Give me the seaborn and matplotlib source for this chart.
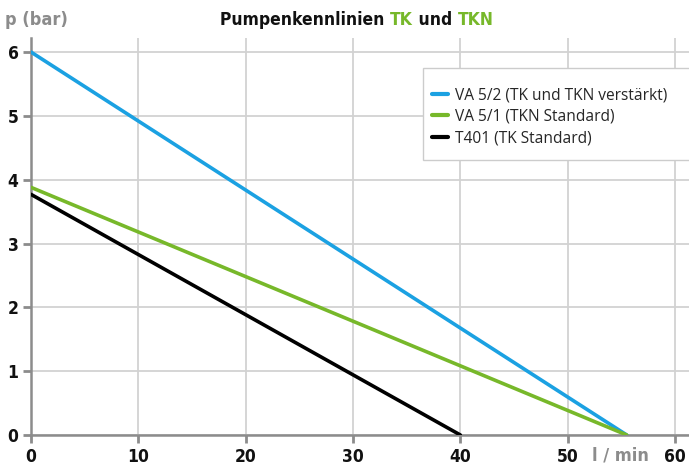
import matplotlib
matplotlib.use("Agg")
import matplotlib.pyplot as plt
import seaborn as sns
import pandas as pd
from matplotlib.font_manager import FontProperties
from matplotlib.patches import Rectangle

flow_va52 = [0, 55.5]
pres_va52 = [6.0, 0.0]
flow_va51 = [0, 55.5]
pres_va51 = [3.88, 0.0]
flow_t401 = [0, 40.0]
pres_t401 = [3.77, 0.0]
labels = ["VA 5/2 (TK und TKN verstärkt)", "VA 5/1 (TKN Standard)", "T401 (TK Standard)"]
colors = ["#1ba1e2", "#77b82a", "#000000"]
xticks = [0, 10, 20, 30, 40, 50, 60]
yticks = [0, 1, 2, 3, 4, 5, 6]

sns.set_theme(style="white")
plt.rcParams['font.family'] = ['DejaVu Sans']

df = pd.concat([
    pd.DataFrame({"flow": flow_va52, "p": pres_va52, "s": labels[0]}),
    pd.DataFrame({"flow": flow_va51, "p": pres_va51, "s": labels[1]}),
    pd.DataFrame({"flow": flow_t401, "p": pres_t401, "s": labels[2]}),
])

W, H = 689, 467
fig = plt.figure(figsize=(6.89, 4.67), dpi=100)
ax = fig.add_axes([31/W, 1-435/H, (W-31)/W, (435-38)/H])
sns.lineplot(data=df, x="flow", y="p", hue="s", palette=colors, hue_order=labels,
             linewidth=2.6, ax=ax, legend=True, zorder=3)
ax.set_xlim(0, 61.3)
ax.set_ylim(0, 6.22)
ax.set_xticks(xticks)
ax.set_yticks(yticks)
ax.set_xlabel("")
ax.set_ylabel("")
ax.grid(True, color="#d2d2d2", linewidth=1.3, zorder=0)
for s in ["top", "right"]:
    ax.spines[s].set_visible(False)
for s in ["left", "bottom"]:
    ax.spines[s].set_color("#8c8c8c")
    ax.spines[s].set_linewidth(1.8)
    ax.spines[s].set_zorder(2)
ax.tick_params(axis="both", which="both", direction="out", length=6, width=2,
               color="#8c8c8c", labelsize=12.5, pad=3, left=True, bottom=True)
for lab in ax.get_xticklabels() + ax.get_yticklabels():
    lab.set_fontweight("bold")
    lab.set_color("#111111")
    lab.set_fontstretch("condensed")

# legend frame drawn separately
ax.add_patch(Rectangle((423/W, 1-160/H), (W+5-423)/W, (160-68)/H,
                       transform=fig.transFigure, facecolor="white",
                       edgecolor="#cccccc", linewidth=1, zorder=4, clip_on=False))
legprop = FontProperties(family=["Open Sans", "DejaVu Sans"], size=11.2,
                         stretch="normal", weight="normal")
leg = ax.legend(loc="upper left", bbox_to_anchor=(432/W, 1-87/H),
                bbox_transform=fig.transFigure,
                frameon=False, handlelength=1.0, handletextpad=0.45,
                borderpad=0, borderaxespad=0, labelspacing=0.38, prop=legprop)
leg.set_zorder(5)
for h in leg.get_lines():
    h.set_linewidth(3)

fig.text(5/W, 1-20/H, "p (bar)", color="#8c8c8c", fontsize=13,
         fontweight="bold", va="center", ha="left", fontstretch="condensed")
fig.text(620/W, 1-455/H, "l / min", color="#8c8c8c", fontsize=13,
         fontweight="bold", va="center", ha="center", fontstretch="condensed")

# Title with coloured parts
parts = [("Pumpenkennlinien ", "#111111"), ("TK", "#77b82a"), (" und ", "#111111"), ("TKN", "#77b82a")]
fig.canvas.draw()
r = fig.canvas.get_renderer()
widths = []
texts = []
for txt, c in parts:
    t = fig.text(0, 1-20/H, txt, color=c, fontsize=12.5, fontweight="bold",
                 va="center", ha="left", fontstretch="condensed")
    texts.append(t)
    widths.append(t.get_window_extent(r).width)
total = sum(widths)
x0 = 357 - total/2
for t, w in zip(texts, widths):
    t.set_x(x0/W)
    x0 += w

fig.savefig("out.png", dpi=100)
